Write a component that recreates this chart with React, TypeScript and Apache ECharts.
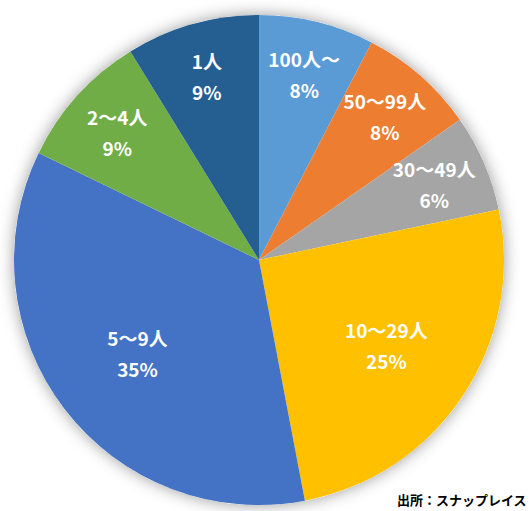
import React, { useEffect, useRef } from 'react'
import * as echarts from 'echarts'

const categories = ['100人～', '50～99人', '30～49人', '10～29人', '5～9人', '2～4人', '1人']
const shares = [7.6, 7.7, 6.4, 25.3, 35.2, 9.0, 8.8]
const colors = ['#5B9BD5', '#ED7D31', '#A5A5A5', '#FFC000', '#4472C4', '#70AD47', '#255E91']
const sourceText = '出所：スナップレイス'

const FONT = '"Noto Sans CJK JP", "Noto Sans", sans-serif'
const CENTER = [259, 260]
const R = 245

export default function App() {
  const ref = useRef<HTMLDivElement | null>(null)

  useEffect(() => {
    if (!ref.current) return
    const chart = echarts.init(ref.current, null, { renderer: 'svg' })

    const labelStyle = {
      show: true,
      position: 'inside',
      color: '#fff',
      fontSize: 19,
      fontWeight: 'bold',
      fontFamily: FONT,
      lineHeight: 31,
      formatter: (p: any) => `${p.name}\n${Math.round(p.percent)}%`
    }

    // big slices get labels nearer the centre, small ones near the rim
    const labelSeries = (big: boolean, radius: number[]) => ({
      type: 'pie',
      center: CENTER,
      radius,
      startAngle: 90,
      silent: true,
      z: 5,
      itemStyle: { color: 'transparent' },
      label: labelStyle,
      labelLine: { show: false },
      emphasis: { disabled: true },
      data: categories.map((c, i) => ({
        name: c,
        value: shares[i],
        label: { show: (shares[i] > 20) === big }
      }))
    })

    const opt: any = {
      animation: false,
      backgroundColor: '#fff',
      series: [
        {
          // soft shadow behind the whole pie
          type: 'pie',
          center: CENTER,
          radius: R,
          silent: true,
          z: 1,
          label: { show: false },
          itemStyle: { color: '#fff', shadowBlur: 16, shadowColor: 'rgba(0,0,0,0.4)' },
          emphasis: { disabled: true },
          data: [{ value: 1, name: '' }]
        },
        {
          type: 'pie',
          center: CENTER,
          radius: R,
          startAngle: 90,
          clockwise: true,
          z: 2,
          label: { show: false },
          labelLine: { show: false },
          itemStyle: { borderWidth: 0 },
          emphasis: { disabled: true },
          data: categories.map((c, i) => ({
            name: c,
            value: shares[i],
            itemStyle: { color: colors[i] }
          }))
        },
        labelSeries(false, [138, 238]),
        labelSeries(true, [50, 250])
      ],
      graphic: [
        {
          type: 'text',
          right: 5,
          bottom: 5,
          style: {
            text: sourceText,
            fill: '#000',
            fontSize: 13,
            fontWeight: 'bold',
            fontFamily: FONT
          }
        }
      ]
    }

    chart.setOption(opt)
    return () => chart.dispose()
  }, [])

  return (
    <div
      ref={ref}
      style={{ position: 'fixed', left: 0, top: 0, width: 532, height: 511 }}
    />
  )
}
